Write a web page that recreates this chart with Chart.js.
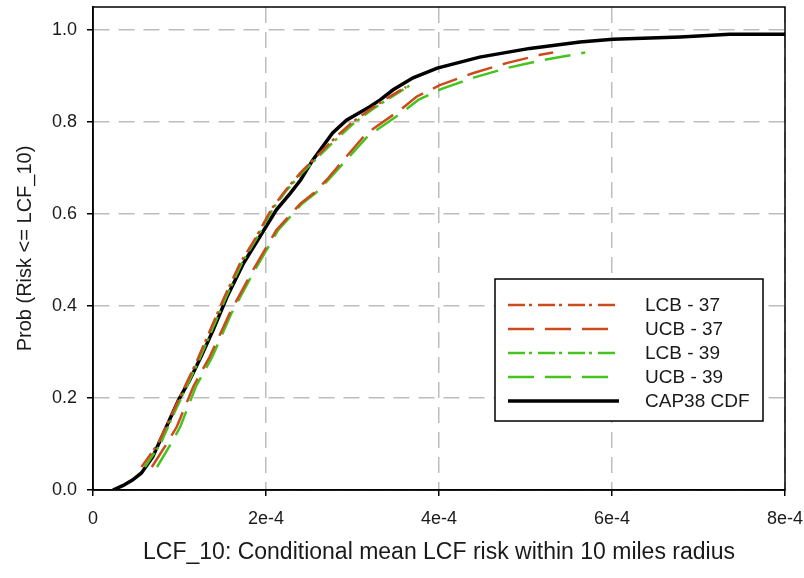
<!DOCTYPE html>
<html>
<head>
<meta charset="utf-8">
<script src="https://cdn.jsdelivr.net/npm/chart.js@4/dist/chart.umd.min.js"></script>
<style>
  html, body { margin: 0; padding: 0; background: #fff; }
  #wrap { width: 804px; height: 578px; }
</style>
</head>
<body>
<div id="wrap"><canvas id="cdf"></canvas></div>
<script>
// x values are in units of 1e-4
const cdfX   = [0.23, 0.35, 0.46, 0.56, 0.69, 0.85, 0.99, 1.12, 1.25, 1.39, 1.55, 1.74, 1.93, 2.12, 2.28, 2.40, 2.54, 2.77, 2.93, 3.20, 3.32, 3.47, 3.70, 3.98, 4.47, 5.05, 5.63, 6.01, 6.79, 7.36, 8.00];
const cdfY   = [0.000, 0.010, 0.022, 0.037, 0.072, 0.138, 0.196, 0.240, 0.290, 0.348, 0.420, 0.493, 0.551, 0.609, 0.645, 0.674, 0.717, 0.776, 0.804, 0.833, 0.848, 0.870, 0.896, 0.917, 0.941, 0.960, 0.974, 0.980, 0.985, 0.991, 0.991];

const lcb37X = [0.56, 0.75, 0.90, 1.05, 1.20, 1.36, 1.52, 1.70, 1.89, 2.06, 2.22, 2.40, 2.60, 2.80, 3.00, 3.20, 3.40, 3.62];
const lcb37Y = [0.050, 0.100, 0.160, 0.220, 0.280, 0.350, 0.420, 0.493, 0.551, 0.610, 0.650, 0.690, 0.728, 0.766, 0.800, 0.827, 0.852, 0.876];

const ucb37X = [0.68, 0.85, 0.97, 1.16, 1.35, 1.58, 1.85, 2.12, 2.40, 2.55, 2.70, 2.93, 3.16, 3.55, 3.74, 4.01, 4.39, 4.78, 5.17, 5.32];
const ucb37Y = [0.050, 0.100, 0.138, 0.225, 0.290, 0.384, 0.478, 0.565, 0.623, 0.645, 0.674, 0.725, 0.775, 0.826, 0.855, 0.880, 0.906, 0.928, 0.946, 0.951];

const lcb39X = [0.60, 0.78, 0.92, 1.07, 1.22, 1.38, 1.54, 1.72, 1.91, 2.08, 2.24, 2.42, 2.62, 2.82, 3.02, 3.22, 3.42, 3.70];
const lcb39Y = [0.050, 0.100, 0.160, 0.220, 0.280, 0.350, 0.420, 0.493, 0.553, 0.612, 0.652, 0.690, 0.727, 0.764, 0.798, 0.826, 0.851, 0.884];

const ucb39X = [0.74, 0.90, 1.01, 1.19, 1.38, 1.60, 1.87, 2.14, 2.42, 2.57, 2.72, 2.95, 3.18, 3.57, 3.76, 4.03, 4.41, 4.80, 5.19, 5.45, 5.69];
const ucb39Y = [0.050, 0.100, 0.138, 0.225, 0.290, 0.384, 0.478, 0.565, 0.623, 0.645, 0.674, 0.722, 0.770, 0.820, 0.848, 0.872, 0.897, 0.918, 0.934, 0.943, 0.951];

const seriesNames = ['LCB - 37', 'UCB - 37', 'LCB - 39', 'UCB - 39', 'CAP38 CDF'];
const xTicks = [0, 2, 4, 6, 8];
const yTicks = [0, 0.2, 0.4, 0.6, 0.8, 1.0];

const RED   = '#cc4a1c';
const GREEN = '#46c41e';
const DASHDOT = [17, 4, 3, 6];
const DASHED  = [26, 11];
const FONT  = '"Liberation Sans", Arial, sans-serif';

const pts = (xs, ys) => xs.map((x, i) => ({ x, y: ys[i] }));

function line(label, xs, ys, color, dash, width) {
  return {
    label,
    data: pts(xs, ys),
    borderColor: color,
    borderWidth: width,
    borderDash: dash,
    pointRadius: 0,
    showLine: true,
    tension: 0,
    fill: false,
  };
}

const boxPlugin = {
  id: 'boxAndLegend',
  afterDraw(chart) {
    const { ctx, chartArea: a } = chart;
    ctx.save();
    ctx.strokeStyle = '#000';
    ctx.lineWidth = 1.5;
    ctx.setLineDash([]);
    ctx.strokeRect(a.left, a.top, a.right - a.left, a.bottom - a.top);

    // legend box
    const bx = 495, by = 279, bw = 268, bh = 142;
    ctx.fillStyle = '#fff';
    ctx.fillRect(bx, by, bw, bh);
    ctx.strokeRect(bx, by, bw, bh);

    const rows = [305, 329, 353, 377, 401];
    ctx.font = '19px ' + FONT;
    ctx.textBaseline = 'middle';
    ctx.textAlign = 'left';
    chart.data.datasets.forEach((ds, i) => {
      const y = rows[i];
      ctx.beginPath();
      ctx.strokeStyle = ds.borderColor;
      ctx.lineWidth = ds.borderWidth;
      ctx.setLineDash(ds.borderDash || []);
      ctx.moveTo(508, y);
      ctx.lineTo(619, y);
      ctx.stroke();
      ctx.fillStyle = '#1a1a1a';
      ctx.fillText(ds.label, 645, y + 1);
    });
    ctx.restore();
  }
};

new Chart(document.getElementById('cdf'), {
  type: 'scatter',
  data: {
    datasets: [
      line(seriesNames[0], lcb37X, lcb37Y, RED,   DASHDOT, 2.5),
      line(seriesNames[1], ucb37X, ucb37Y, RED,   DASHED,  2.5),
      line(seriesNames[2], lcb39X, lcb39Y, GREEN, DASHDOT, 2.5),
      line(seriesNames[3], ucb39X, ucb39Y, GREEN, DASHED,  2.5),
      line(seriesNames[4], cdfX,   cdfY,   '#000', [],     3.5),
    ],
  },
  options: {
    responsive: true,
    maintainAspectRatio: false,
    animation: false,
    layout: { padding: { left: 0, top: 7, right: 19, bottom: 0 } },
    plugins: { legend: { display: false }, tooltip: { enabled: false } },
    scales: {
      x: {
        type: 'linear',
        min: 0,
        max: 8,
        afterFit: s => { s.height = 88; s.paddingLeft = 0; s.paddingRight = 0; },
        afterBuildTicks: s => { s.ticks = xTicks.map(v => ({ value: v })); },
        ticks: {
          color: '#1a1a1a',
          padding: 12,
          maxRotation: 0,
          font: { family: FONT, size: 18 },
          callback: v => v === 0 ? '0' : v + 'e-4',
        },
        grid: { color: '#bdbdbd', lineWidth: 1.5, tickColor: '#000', tickLength: 6, tickWidth: 1.5 },
        border: { color: '#000', width: 1.5, dash: [16, 9] },
        title: {
          display: true,
          text: 'LCF_10: Conditional mean LCF risk within 10 miles radius',
          color: '#1a1a1a',
          font: { family: FONT, size: 23 },
          padding: { top: 12, bottom: 12 },
        },
      },
      y: {
        type: 'linear',
        min: 0,
        max: 1.05,
        afterFit: s => { s.width = 93; s.paddingTop = 0; s.paddingBottom = 0; },
        afterBuildTicks: s => { s.ticks = yTicks.map(v => ({ value: v })); },
        ticks: {
          color: '#1a1a1a',
          padding: 10,
          font: { family: FONT, size: 18 },
          callback: v => v.toFixed(1),
        },
        grid: { color: '#bdbdbd', lineWidth: 1.5, tickColor: '#000', tickLength: 6, tickWidth: 1.5 },
        border: { color: '#000', width: 1.5, dash: [16, 9] },
        title: {
          display: true,
          text: 'Prob (Risk <= LCF_10)',
          color: '#1a1a1a',
          font: { family: FONT, size: 20 },
          padding: { top: 13, bottom: 13 },
        },
      },
    },
  },
  plugins: [boxPlugin],
});
</script>
</body>
</html>
